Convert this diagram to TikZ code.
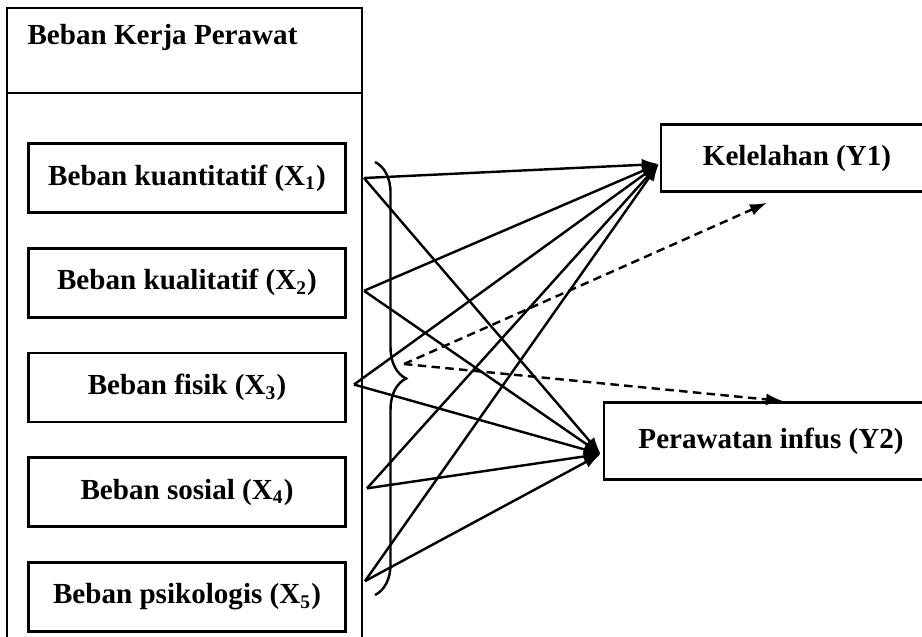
\documentclass[tikz,border=0pt]{standalone}
\usepackage{fontspec}
\setmainfont{Liberation Serif}
\usepackage{tikz}
\usetikzlibrary{calc}
\usetikzlibrary{positioning}
\usetikzlibrary{arrows.meta}
\usetikzlibrary{decorations.pathreplacing}
\newcommand{\varfont}{\fontsize{12}{14}\selectfont\bfseries}
\tikzset{varnode/.style={shape=rectangle, minimum width=4.6cm, minimum height=1cm, draw=black, line width=1.1pt, font=\varfont},
  depnode/.style={shape=rectangle, draw=black, line width=1.1pt, font=\varfont},
  infl/.style={-{Latex[length=7pt,width=5pt]}, line width=1pt},
  joint/.style={infl, dash pattern=on 3.5pt off 2.2pt}}

\begin{document}
\begin{tikzpicture}[x=0.0145cm, y=-0.0145cm]
    \useasboundingbox (0,0) rectangle (922,636);
    % frame round the five loads
    \draw[line width=1.1pt] (7,8) rectangle (362,93);
    \draw[line width=1.1pt] (7,93) -- (7,640) (362,93) -- (362,640);
    \node[anchor=west, font=\varfont] (kerja) at (19,37) {Beban Kerja Perawat};
    \node[varnode] (x1) at (187,178) {Beban kuantitatif (X\textsubscript{1})};
    \node[varnode, below = 0.48cm of x1] (x2) {Beban kualitatif (X\textsubscript{2})};
    \node[varnode, below = 0.48cm of x2] (x3) {Beban fisik (X\textsubscript{3})};
    \node[varnode, below = 0.48cm of x3] (x4) {Beban sosial (X\textsubscript{4})};
    \node[varnode, below = 0.48cm of x4] (x5) {Beban psikologis (X\textsubscript{5})};
    % outcomes
    \node[depnode, minimum width=3.94cm, minimum height=0.97cm] (y1) at (797,158) {Kelelahan (Y1)};
    \node[depnode, minimum width=4.84cm, minimum height=1.12cm] (y2) at (771,441) {Perawatan infus (Y2)};
    % partial effects
    \foreach \i/\dx/\dy in {1/17/0, 2/17/8, 3/7/-3, 4/20/-4, 5/18/-16}
    {
      \draw[infl] ($(x\i.east)+(\dx,\dy)$) -- ($(y1.west)+(-1,6)$);
      \draw[infl] ($(x\i.east)+(\dx,\dy)$) -- ($(y2.west)+(-2,13)$);
    }
    % joint effect
    \coordinate (bracetop) at (375,162);
    \coordinate (bracebot) at (375,595);
    \coordinate (bracetip) at (404,364);
    \draw[decorate, decoration={brace, amplitude=0.45cm}, line width=1pt] (bracetop) -- (bracebot);
    \draw[joint] (bracetip) -- ($(y1.south)+(-30,10)$);
    \draw[joint] (bracetip) -- ($(y2.north)+(12,0)$);
  \end{tikzpicture}
\end{document}
